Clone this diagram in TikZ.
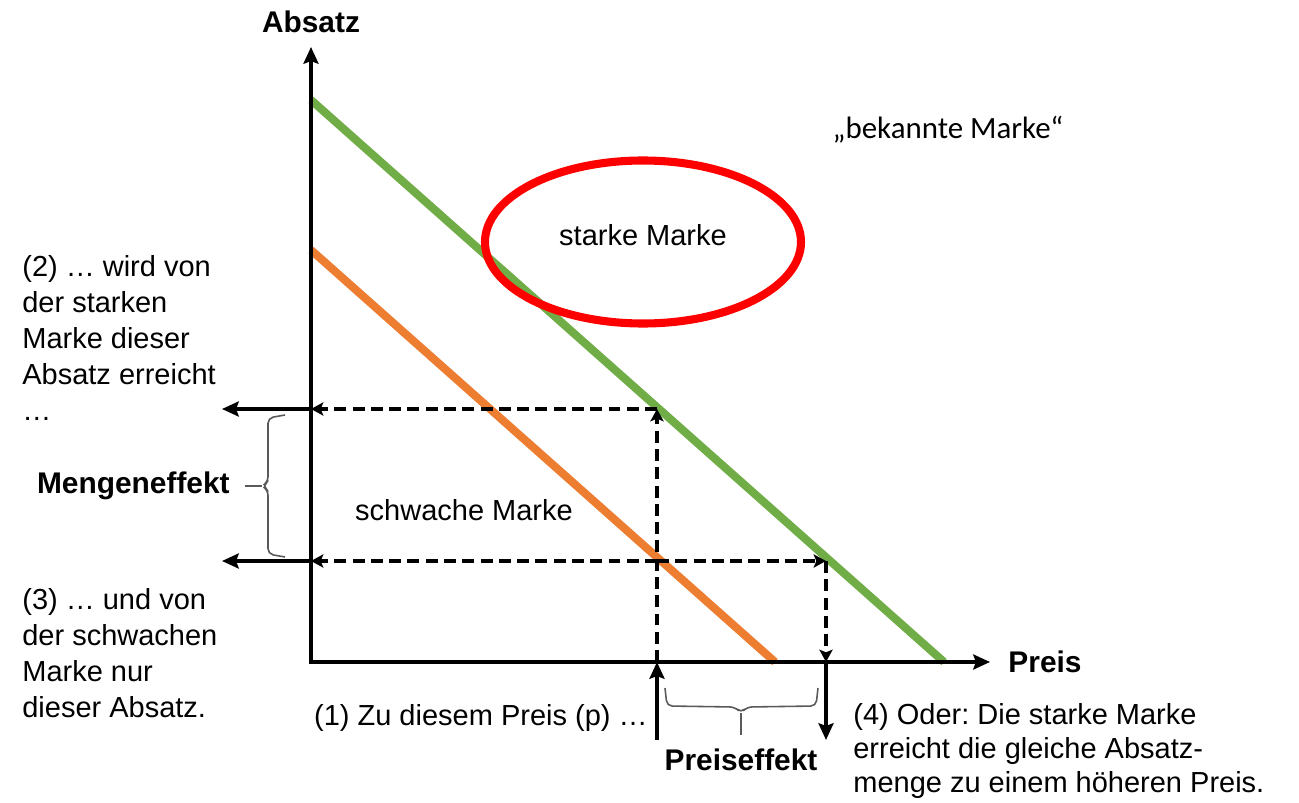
\documentclass[tikz,border=0pt]{standalone}
\usepackage{fontspec}
\setmainfont{Liberation Sans}
\newfontfamily\calibri{Carlito}
\usetikzlibrary{arrows.meta}
\frenchspacing
\definecolor{strongcol}{HTML}{70AD47}
\definecolor{weakcol}{HTML}{ED7D31}
\definecolor{bracecol}{HTML}{595959}
\tikzset{
  axis/.style={line width=2.5pt, -{Stealth[length=9.5pt,width=8.5pt,inset=1.5pt]}},
  guide/.style={line width=2.4pt, dash pattern=on 6.8pt off 3.6pt,
    -{Stealth[length=7pt,width=7.5pt,inset=1.5pt]}},
  demand/.style={line width=4.6pt},
  effect/.style={bracecol, line width=0.9pt, rounded corners=3pt},
  txt/.style={font=\fontsize{16.5}{20.5}\selectfont, align=left, inner sep=0pt},
  bold/.style={font=\fontsize{17}{20}\selectfont\bfseries, inner sep=0pt}
}
\begin{document}
\begin{tikzpicture}
    \useasboundingbox (-6.22,-2.8) rectangle (19.76,13.24);
    % points of the diagram
    \coordinate (O) at (0,0);
    \coordinate (ytop) at (0,12.3);
    \coordinate (xend) at (13.58,0);
    \coordinate (p) at (6.92,0);
    \coordinate (A) at (6.92,5.06);
    \coordinate (B) at (6.92,2.02);
    \coordinate (C) at (10.3,2.02);
    \coordinate (yA) at (0,5.06);
    \coordinate (yB) at (0,2.02);
    \coordinate (pC) at (10.3,0);
    \coordinate (lA) at (-1.78,5.06);
    \coordinate (lB) at (-1.78,2.02);
    \coordinate (pbot) at (6.92,-1.56);
    \coordinate (pCbot) at (10.3,-1.56);
    % demand curves of the two brands
    \draw[demand, strongcol] (0,11.24) -- (12.66,0);
    \draw[demand, weakcol] (0,8.24) -- (9.28,0);
    % axes
    \draw[axis, {Stealth[length=9.5pt,width=8.5pt,inset=1.5pt]}-{Stealth[length=9.5pt,width=8.5pt,inset=1.5pt]}]
        (ytop) -- (O) -- (xend);
    \node[bold] (absatz) at (0,12.8) {Absatz};
    \node[bold] (preis) at (14.68,0) {Preis};
    % strong brand
    \draw[red, line width=4.6pt] (6.64,8.4) ellipse [x radius=3.16, y radius=1.63];
    \node[txt] (starke) at (6.64,8.54) {starke Marke};
    \node[txt] (schwache) at (3.06,3.04) {schwache Marke};
    \node[font=\calibri\fontsize{17.6}{21}\selectfont, inner sep=0pt] (bekannt)
        at (12.74,10.64) {„bekannte Marke“};
    % dashed guide lines
    \draw[guide] (p) -- (A);
    \draw[guide] (A) -- (yA);
    \draw[guide] (B) -- (yB);
    \draw[guide] (B) -- (C);
    \draw[guide] (C) -- (pC);
    % solid arrows outside the axes
    \draw[axis] (yA) -- (lA);
    \draw[axis] (yB) -- (lB);
    \draw[axis] (pbot) -- (p);
    \draw[axis] (pC) -- (pCbot);
    % effects (curly braces)
    \draw[effect] (-0.52,4.94) -- (-0.86,4.88) -- (-0.86,3.6) -- (-0.98,3.52)
        -- (-0.86,3.44) -- (-0.86,2.16) -- (-0.52,2.1);
    \draw[effect, rounded corners=0pt] (-0.98,3.52) -- (-1.32,3.52);
    \node[bold, anchor=east] (menge) at (-1.62,3.52) {Mengeneffekt};
    \draw[effect] (7.08,-0.52) -- (7.12,-0.88) -- (8.48,-0.9) -- (8.6,-1.02)
        -- (8.72,-0.9) -- (10.1,-0.88) -- (10.14,-0.52);
    \draw[effect, rounded corners=0pt] (8.6,-1.02) -- (8.6,-1.46);
    \node[bold] (preiseff) at (8.6,-1.96) {Preiseffekt};
    % explanations
    \node[txt, anchor=north west] (step2) at (-5.78,8.14)
        {(2) … wird von\\der starken\\Marke dieser\\Absatz erreicht\\…};
    \node[txt, anchor=north west] (step3) at (-5.78,1.48)
        {(3) … und von\\der schwachen\\Marke nur\\dieser Absatz.};
    \node[txt, anchor=east] (step1) at (6.74,-1.12) {(1) Zu diesem Preis (p) …};
    \node[txt, anchor=north west, font=\fontsize{16.5}{19.4}\selectfont] (step4) at (10.84,-0.82)
        {(4) Oder: Die starke Marke\\erreicht die gleiche Absatz-\\menge zu einem höheren Preis.};
\end{tikzpicture}
\end{document}
